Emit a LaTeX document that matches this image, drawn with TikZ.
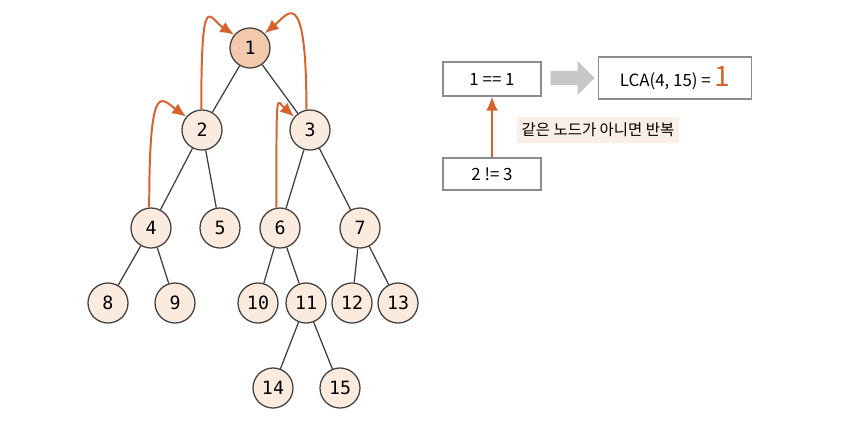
\documentclass[tikz,border=0pt]{standalone}
\usepackage{fontspec}
\setmainfont{Noto Sans CJK KR}
\newfontfamily\treefont{DejaVu Sans Mono}
\usetikzlibrary{arrows.meta,positioning,shapes.arrows}

\definecolor{nodefill}{HTML}{FBEBDF}
\definecolor{rootfill}{HTML}{F2C9AC}
\definecolor{upcol}{HTML}{D8622C}
\definecolor{tagfill}{HTML}{FBEEE6}

\tikzset{
  vertex/.style={circle, draw=black!75, line width=0.9pt, fill=nodefill,
    minimum size=10mm, inner sep=0pt, font=\treefont\fontsize{13}{15}\selectfont},
  root/.style={vertex, fill=rootfill},
  edge/.style={draw=black!75, line width=0.9pt},
  climb/.style={draw=upcol, line width=1.4pt, -{Latex[length=10pt,width=8.5pt]}},
  box/.style={draw=black!45, line width=0.8pt, fill=white, inner sep=0pt,
    font=\fontsize{12}{14}\selectfont},
  tag/.style={fill=tagfill, inner xsep=3pt, inner ysep=4pt, font=\fontsize{11}{13}\selectfont},
  grayarrow/.style={single arrow, fill=black!22, minimum height=11mm,
    minimum width=8.5mm, single arrow head extend=0.1mm, inner sep=0pt,
    single arrow tip angle=90}
}

\begin{document}
\begin{tikzpicture}[x=0.025cm, y=-0.025cm]
    \useasboundingbox (0,0) rectangle (845,423);

    % Tree
    \node[root] (n1) at (250,48) {1};
    \node[vertex] (n2) at (202,130) {2};
    \node[vertex] (n3) at (310,130) {3};
    \node[vertex] (n4) at (151,228) {4};
    \node[vertex] (n5) at (220,228) {5};
    \node[vertex] (n6) at (280,228) {6};
    \node[vertex] (n7) at (360,228) {7};
    \node[vertex] (n8) at (108,303) {8};
    \node[vertex] (n9) at (175,303) {9};
    \node[vertex] (n10) at (258,303) {10};
    \node[vertex] (n11) at (306,303) {11};
    \node[vertex] (n12) at (352,303) {12};
    \node[vertex] (n13) at (398,303) {13};
    \node[vertex] (n14) at (273,388) {14};
    \node[vertex] (n15) at (340,388) {15};

    \foreach \a/\b in {n1/n2, n1/n3, n2/n4, n2/n5, n3/n6, n3/n7, n4/n8, n4/n9,
                       n6/n10, n6/n11, n7/n12, n7/n13, n11/n14, n11/n15}
        \path[edge] (\a) -- (\b);

    % Climbing up to the parents
    \draw[climb] (n4.95) .. controls +(0,-130) and +(-25,-18) .. (n2.140);
    \draw[climb] (n2.92) .. controls +(0,-125) and +(-25,-16) .. (n1.140);
    \draw[climb] (n6.100) .. controls +(0,-125) and +(-18,-16) .. (n3.140);
    \draw[climb] (n3.100) .. controls +(0,-130) and +(22,-18) .. (n1.45);

    % Comparison boxes
    \node[box, minimum width=24.5mm, minimum height=8.5mm] (eq) at (492,79) {1 == 1};
    \node[box, minimum width=24.5mm, minimum height=8mm] (neq) at (492,174) {2 != 3};
    \node[box, minimum width=38.25mm, minimum height=10.5mm] (lca) at (675,78)
        {LCA(4, 15) = \textcolor{upcol}{\fontsize{20}{22}\selectfont 1}};
    \node[grayarrow] (go) at (569,78) {};

    \draw[climb] (neq.north) -- (eq.south);
    \node[tag] (again) at (598,130) {같은 노드가 아니면 반복};
\end{tikzpicture}
\end{document}
